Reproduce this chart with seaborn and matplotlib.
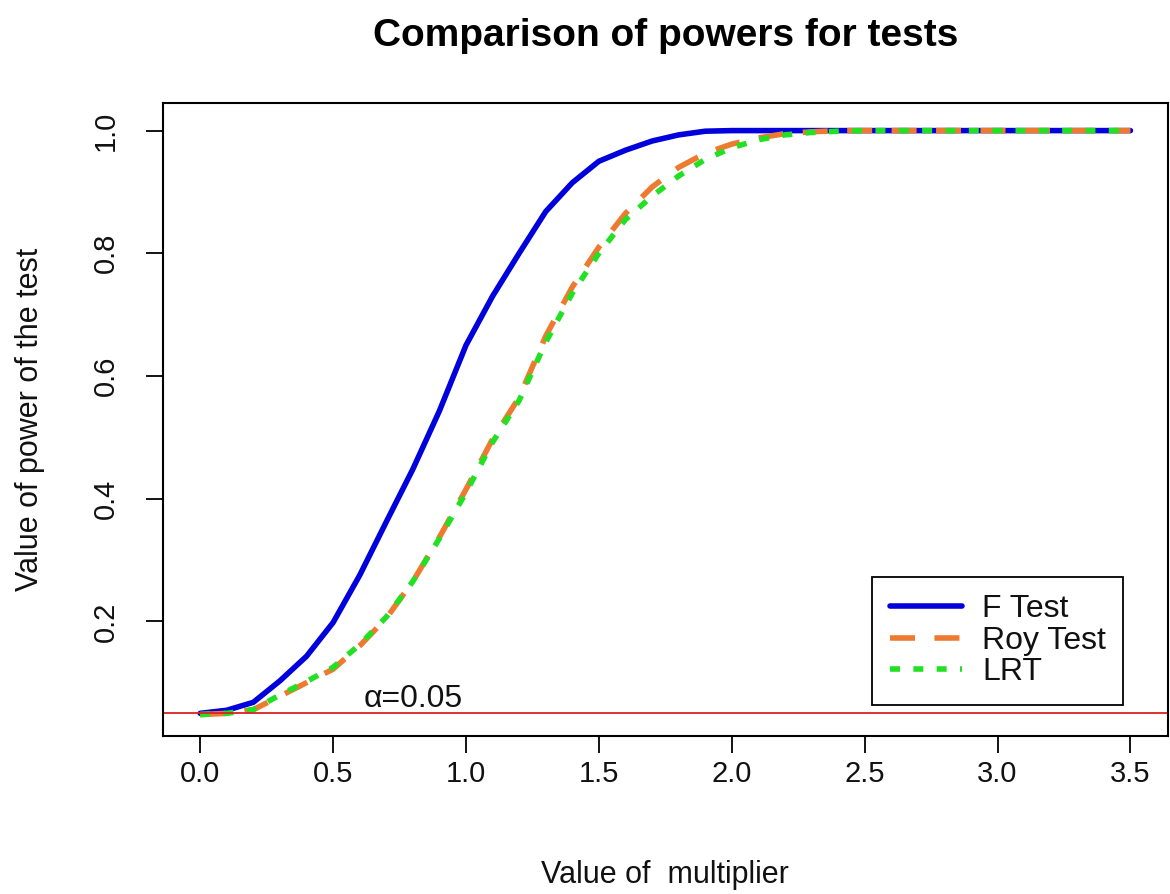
import numpy as np
import pandas as pd
import matplotlib
matplotlib.use("Agg")
import matplotlib.pyplot as plt
import seaborn as sns

# multiplier grid and simulated powers
multiplier = [0.0, 0.1, 0.2, 0.3, 0.4, 0.5, 0.6, 0.7, 0.8, 0.9,
              1.0, 1.1, 1.2, 1.3, 1.4, 1.5, 1.6, 1.7, 1.8, 1.9,
              2.0, 2.1, 2.2, 2.3, 2.4, 2.5, 2.6, 2.7, 2.8, 2.9,
              3.0, 3.1, 3.2, 3.3, 3.4, 3.5]

f_test = [0.050, 0.055, 0.068, 0.103, 0.143, 0.198, 0.275, 0.362, 0.448, 0.543,
          0.650, 0.730, 0.800, 0.868, 0.915, 0.950, 0.968, 0.983, 0.993, 0.999,
          1.000, 1.000, 1.000, 1.000, 1.000, 1.000, 1.000, 1.000, 1.000, 1.000,
          1.000, 1.000, 1.000, 1.000, 1.000, 1.000]

roy_test = [0.048, 0.050, 0.056, 0.078, 0.100, 0.122, 0.160, 0.205, 0.265, 0.337,
            0.415, 0.497, 0.565, 0.665, 0.745, 0.810, 0.865, 0.908, 0.940, 0.963,
            0.978, 0.988, 0.995, 0.998, 1.000, 1.000, 1.000, 1.000, 1.000, 1.000,
            1.000, 1.000, 1.000, 1.000, 1.000, 1.000]

lrt = [0.048, 0.050, 0.056, 0.080, 0.102, 0.125, 0.162, 0.207, 0.265, 0.335,
       0.410, 0.492, 0.560, 0.655, 0.735, 0.800, 0.855, 0.893, 0.926, 0.953,
       0.972, 0.985, 0.993, 0.997, 0.999, 1.000, 1.000, 1.000, 1.000, 1.000,
       1.000, 1.000, 1.000, 1.000, 1.000, 1.000]

alpha = 0.05

df = pd.DataFrame({"multiplier": multiplier, "F Test": f_test,
                   "Roy Test": roy_test, "LRT": lrt})

sns.set_style("ticks")
plt.rcParams["font.family"] = ["Liberation Sans", "DejaVu Sans"]

fig = plt.figure(figsize=(11.7, 8.94), dpi=100)
ax = fig.add_axes([0.1393, 0.1767, 0.8587, 0.7081])

lw = 4
sns.lineplot(data=df, x="multiplier", y="F Test", ax=ax, color="#0000dd",
             lw=lw, label="F Test")
sns.lineplot(data=df, x="multiplier", y="Roy Test", ax=ax, color="#ee7a30",
             lw=lw, dashes=False, label="Roy Test")
sns.lineplot(data=df, x="multiplier", y="LRT", ax=ax, color="#22e022",
             lw=lw, dashes=False, label="LRT")
ax.lines[1].set_dashes((4.5, 3.5))
ax.lines[2].set_dashes((1.8, 2.4))

ax.axhline(alpha, color="#dd2020", lw=1.3)
ax.text(0.8, alpha + 0.01, "\u03b1=0.05", fontsize=23, ha="center",
        va="baseline", color="#111111")

ax.set_xlim(-0.14, 3.64)
ax.set_ylim(0.013, 1.045)
ax.set_xticks([0.0, 0.5, 1.0, 1.5, 2.0, 2.5, 3.0, 3.5])
ax.set_yticks([0.2, 0.4, 0.6, 0.8, 1.0])
ax.set_xticklabels([f"{v:.1f}" for v in ax.get_xticks()])
ax.set_yticklabels([f"{v:.1f}" for v in ax.get_yticks()], rotation=90,
                   va="center")
ax.tick_params(axis="both", labelsize=21, length=12, width=1.3,
               color="black", labelcolor="#111111")
ax.tick_params(axis="x", pad=5)
ax.tick_params(axis="y", pad=19)
for s in ax.spines.values():
    s.set_visible(True)
    s.set_color("black")
    s.set_linewidth(1.5)

ax.set_xlabel("Value of  multiplier", fontsize=22, labelpad=52, color="#111111")
ax.set_ylabel("Value of power of the test", fontsize=22, labelpad=34,
              color="#111111")
ax.set_title("Comparison of powers for tests", fontsize=28, fontweight="bold",
             pad=41, color="black")

leg = ax.legend(loc="lower right", bbox_to_anchor=(0.956, 0.049),
                borderaxespad=0, fontsize=23, frameon=True, fancybox=False,
                edgecolor="black", framealpha=1, handlelength=2.25,
                labelspacing=0.05, borderpad=0.55, handletextpad=0.63)
leg.get_frame().set_linewidth(1.3)
for t in leg.get_texts():
    t.set_color("#111111")

fig.savefig("out.png", dpi=100)
